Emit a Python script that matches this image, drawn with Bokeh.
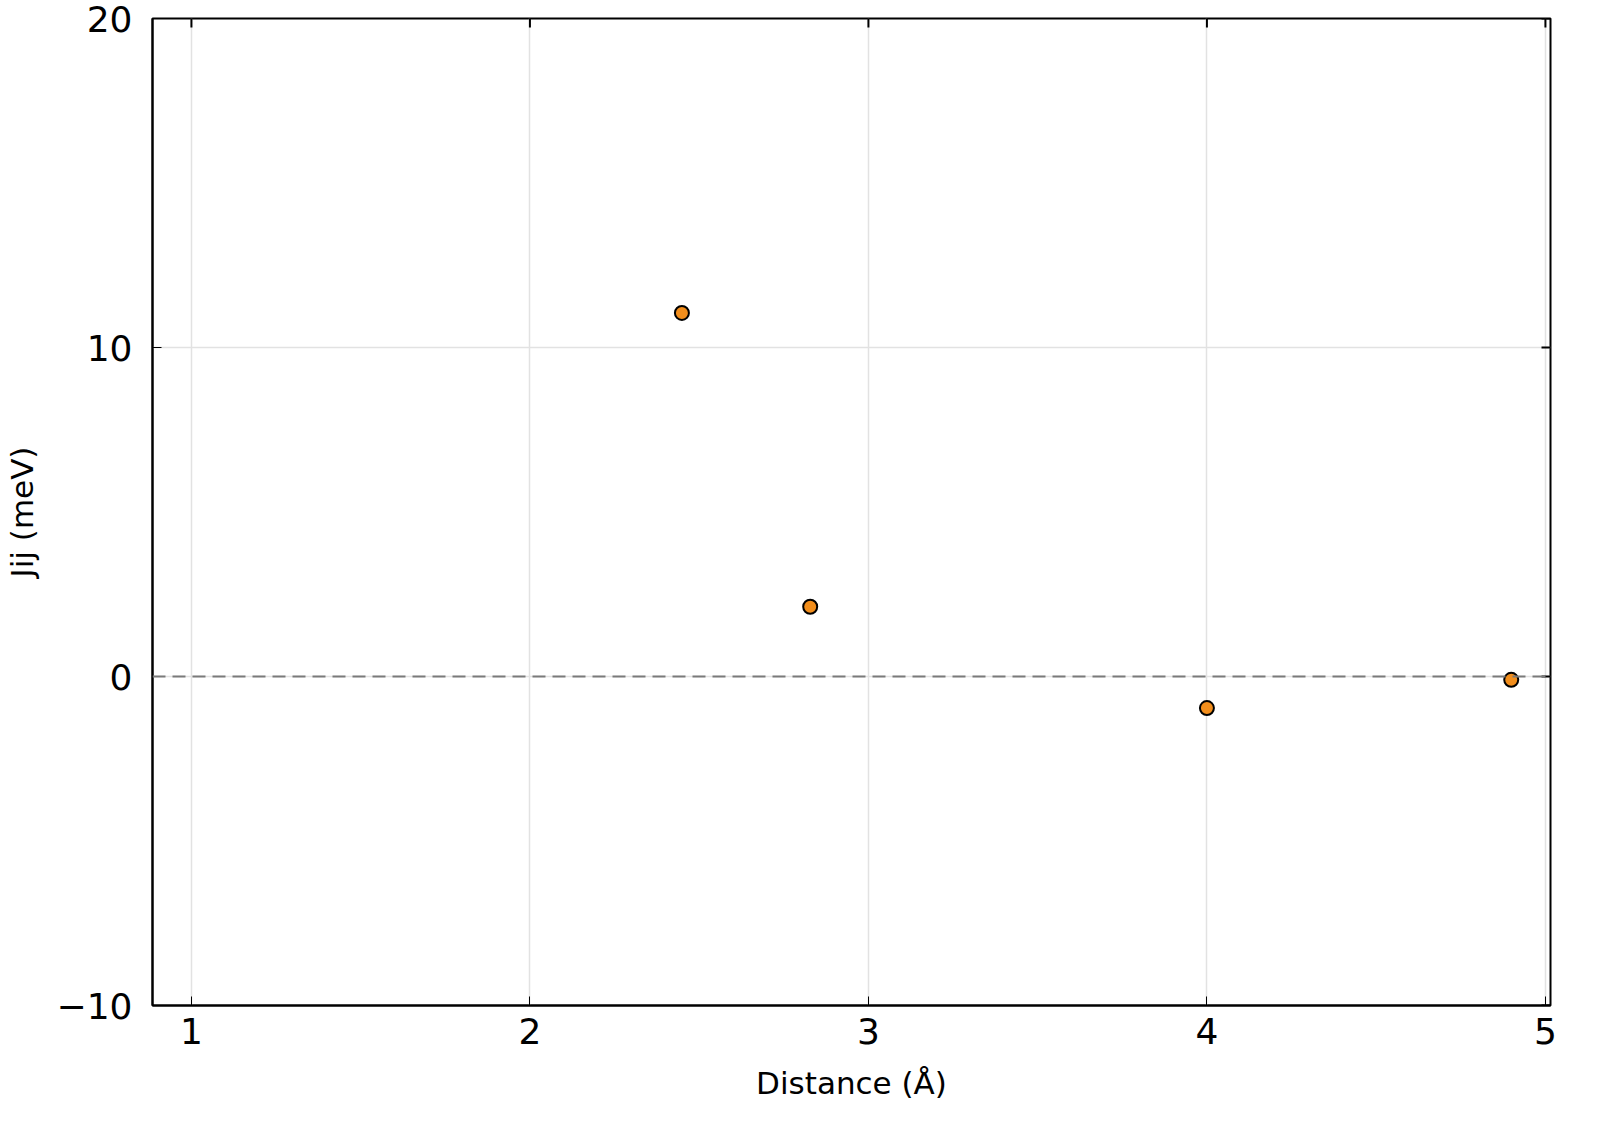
import math

from bokeh.plotting import figure
from bokeh.models import FixedTicker, Span
from bokeh.embed import file_html
from bokeh.resources import INLINE

# pair distances (Å) and exchange couplings Jij (meV)
distance = [2.449, 2.828, 4.000, 4.899]
jij = [11.05, 2.12, -0.96, -0.10]

x_ticks = [1, 2, 3, 4, 5]
y_ticks = [-10, 0, 10, 20]

X_MIN, X_MAX = 0.885, 5.015
Y_MIN, Y_MAX = -10, 20

FONT = "DejaVu Sans"

p = figure(frame_width=1398, frame_height=987,
           min_border_left=147, min_border_right=39,
           min_border_top=18, min_border_bottom=4,
           x_range=(X_MIN, X_MAX), y_range=(Y_MIN, Y_MAX),
           output_backend="svg", toolbar_location=None,
           x_axis_label="Distance (Å)", y_axis_label="Jij (meV)")

p.outline_line_color = "black"
p.outline_line_width = 2

for ax in [p.xaxis[0], p.yaxis[0]]:
    ax.axis_line_width = 2
    ax.major_tick_in = 9
    ax.major_tick_out = 0
    ax.minor_tick_line_color = None
    ax.major_label_text_font = FONT
    ax.major_label_text_font_size = "36px"
    ax.major_label_text_color = "black"
    ax.axis_label_text_font = FONT
    ax.axis_label_text_font_size = "31px"
    ax.axis_label_text_font_style = "normal"
    ax.axis_label_text_color = "black"

p.xaxis.ticker = FixedTicker(ticks=x_ticks)
p.yaxis.ticker = FixedTicker(ticks=y_ticks)
p.yaxis.major_label_overrides = {-10: "\u221210", 0: "0", 10: "10", 20: "20"}
p.xaxis.axis_label_standoff = 18
p.yaxis.axis_label_standoff = 14
p.yaxis.major_label_standoff = 20
p.xaxis.major_label_standoff = 12

p.xgrid.ticker = FixedTicker(ticks=x_ticks)
p.ygrid.ticker = FixedTicker(ticks=y_ticks)
p.grid.grid_line_color = "#e2e2e2"
p.grid.grid_line_width = 1.5

# mirrored inner ticks on the top and right frame edges (outer half is clipped)
p.scatter(x_ticks, [Y_MAX] * len(x_ticks), marker="dash", angle=math.pi / 2,
          size=18, line_color="black", line_width=2)
p.scatter([X_MAX] * len(y_ticks), y_ticks, marker="dash",
          size=18, line_color="black", line_width=2)

p.add_layout(Span(location=0, dimension="width", line_color="#7a7a7a",
                  line_width=2, line_dash="13 7"))

p.scatter(distance, jij, size=14, fill_color="#f28e1c",
          line_color="black", line_width=2)

open("out.html", "w").write(file_html(p, INLINE))
